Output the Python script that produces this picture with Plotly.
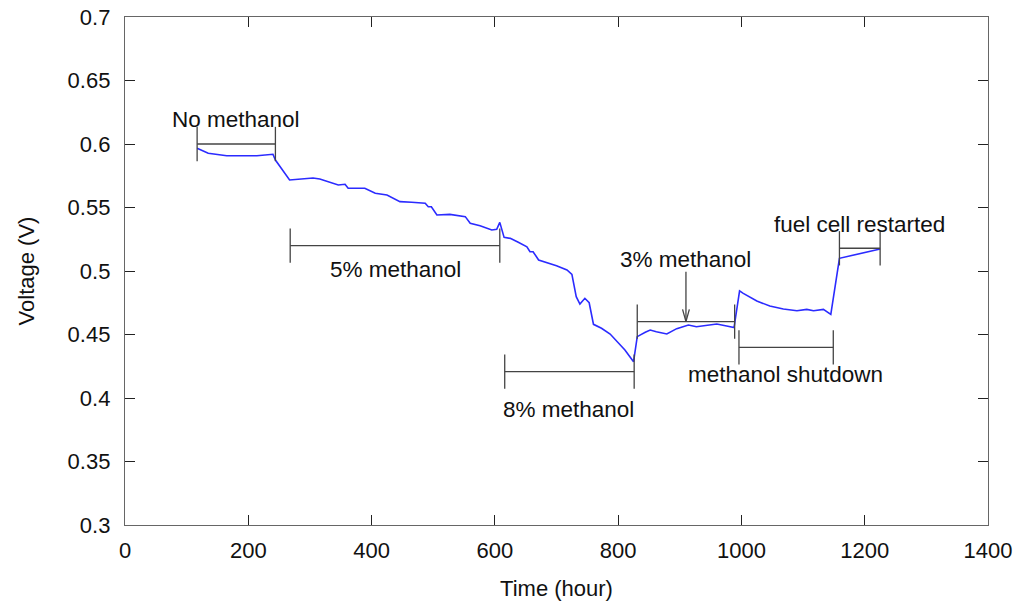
import plotly.graph_objects as go

# ---- data ----
hours = [117, 135, 165, 208, 214, 240, 244, 267, 284, 305, 316, 327, 346, 357, 362, 389,
         406, 425, 446, 465, 487, 492, 497, 506, 527, 552, 560, 576, 595, 603, 608, 615,
         625, 638, 652, 657, 662, 671, 684, 700, 717, 725, 732, 738, 746, 753, 760, 773,
         787, 803, 811, 825, 831, 844, 852, 862, 879, 895, 914, 927, 960, 976, 988, 997,
         1003, 1025, 1046, 1068, 1090, 1106, 1117, 1133, 1145, 1159, 1225]
voltage = [0.5966, 0.5927, 0.5908, 0.5913, 0.5908, 0.5919, 0.5874, 0.5717, 0.5722, 0.5732,
           0.5724, 0.5709, 0.5677, 0.5683, 0.5651, 0.5651, 0.5612, 0.5598, 0.5546, 0.5541,
           0.5533, 0.5506, 0.5506, 0.5441, 0.5446, 0.5428, 0.5376, 0.5357, 0.5323, 0.5328,
           0.5383, 0.5265, 0.5257, 0.5226, 0.5191, 0.5152, 0.5152, 0.5087, 0.5069, 0.5042,
           0.5008, 0.4974, 0.4798, 0.4740, 0.4785, 0.4750, 0.4580, 0.4549, 0.4504, 0.4417,
           0.4378, 0.4286, 0.4483, 0.4517, 0.4535, 0.4522, 0.4504, 0.4546, 0.4575, 0.4561,
           0.4583, 0.4567, 0.4554, 0.4843, 0.4824, 0.4764, 0.4724, 0.4701, 0.4687, 0.4698,
           0.4687, 0.4698, 0.4659, 0.5100, 0.5173]

# bracket annotations: label, start hour, end hour, voltage level, label position
bracket_labels = ["No methanol", "5% methanol", "8% methanol", "3% methanol",
                  "methanol shutdown", "fuel cell restarted"]
bracket_start = [117, 268, 616, 831, 996, 1159]
bracket_end = [244, 608, 826, 989, 1149, 1225]
bracket_level = [0.600, 0.520, 0.4207, 0.4601, 0.4399, 0.5179]
label_x = [180, 438, 719, 910, 1072, 1191]
label_y = [0.619, 0.5008, 0.3906, 0.5092, 0.4189, 0.537]

arrow_x = 910
arrow_top = 0.4995
arrow_bottom = 0.4601

x_ticks = [0, 200, 400, 600, 800, 1000, 1200, 1400]
y_ticks = [0.3, 0.35, 0.4, 0.45, 0.5, 0.55, 0.6, 0.65, 0.7]

FONT = "Liberation Sans, Arial, sans-serif"
half_tick = 0.0135

fig = go.Figure()
fig.add_trace(go.Scatter(x=hours, y=voltage, mode="lines",
                         line=dict(color="#2b2bff", width=1.6),
                         showlegend=False, hoverinfo="skip"))

# brackets
bx, by = [], []
for s, e, lv in zip(bracket_start, bracket_end, bracket_level):
    bx += [s, e, None, s, s, None, e, e, None]
    by += [lv, lv, None, lv - half_tick, lv + half_tick, None, lv - half_tick, lv + half_tick, None]
# arrow (open V head)
ah_w, ah_h = 5.5, 0.0097
bx += [arrow_x, arrow_x, None, arrow_x - ah_w, arrow_x, arrow_x + ah_w, None]
by += [arrow_top, arrow_bottom, None, arrow_bottom + ah_h, arrow_bottom, arrow_bottom + ah_h, None]
fig.add_trace(go.Scatter(x=bx, y=by, mode="lines", line=dict(color="#444444", width=1.3),
                         showlegend=False, hoverinfo="skip"))

for t, xx, yy in zip(bracket_labels, label_x, label_y):
    fig.add_annotation(x=xx, y=yy, text=t, showarrow=False, xref="x", yref="y",
                       font=dict(family=FONT, size=22.5, color="#111111"))

axis_common = dict(showgrid=False, zeroline=False, showline=True, linecolor="#666666",
                   linewidth=1.3, mirror="ticks", ticks="inside", ticklen=10,
                   tickcolor="#222222", tickwidth=1.2, automargin=False,
                   tickfont=dict(family=FONT, size=22, color="#111111"))
fig.update_xaxes(range=[0, 1400], tickvals=x_ticks, ticktext=[str(v) for v in x_ticks],
                 ticklabelstandoff=5,
                 title=dict(text="Time (hour)", font=dict(family=FONT, size=22, color="#111111"),
                            standoff=35),
                 **axis_common)
fig.update_yaxes(range=[0.3, 0.7], tickvals=y_ticks, ticktext=[f"{v:g}" for v in y_ticks],
                 ticklabelstandoff=9,
                 title=dict(text="Voltage (V)", font=dict(family=FONT, size=22, color="#111111"),
                            standoff=26),
                 **axis_common)
fig.update_layout(width=1033, height=601, paper_bgcolor="white", plot_bgcolor="white",
                  margin=dict(l=125, r=45, t=17, b=76))
# remove the default page-body margin so the figure fills the window exactly
fig.write_html("out.html", config={"displayModeBar": False},
               post_script="document.body.style.margin='0';")
